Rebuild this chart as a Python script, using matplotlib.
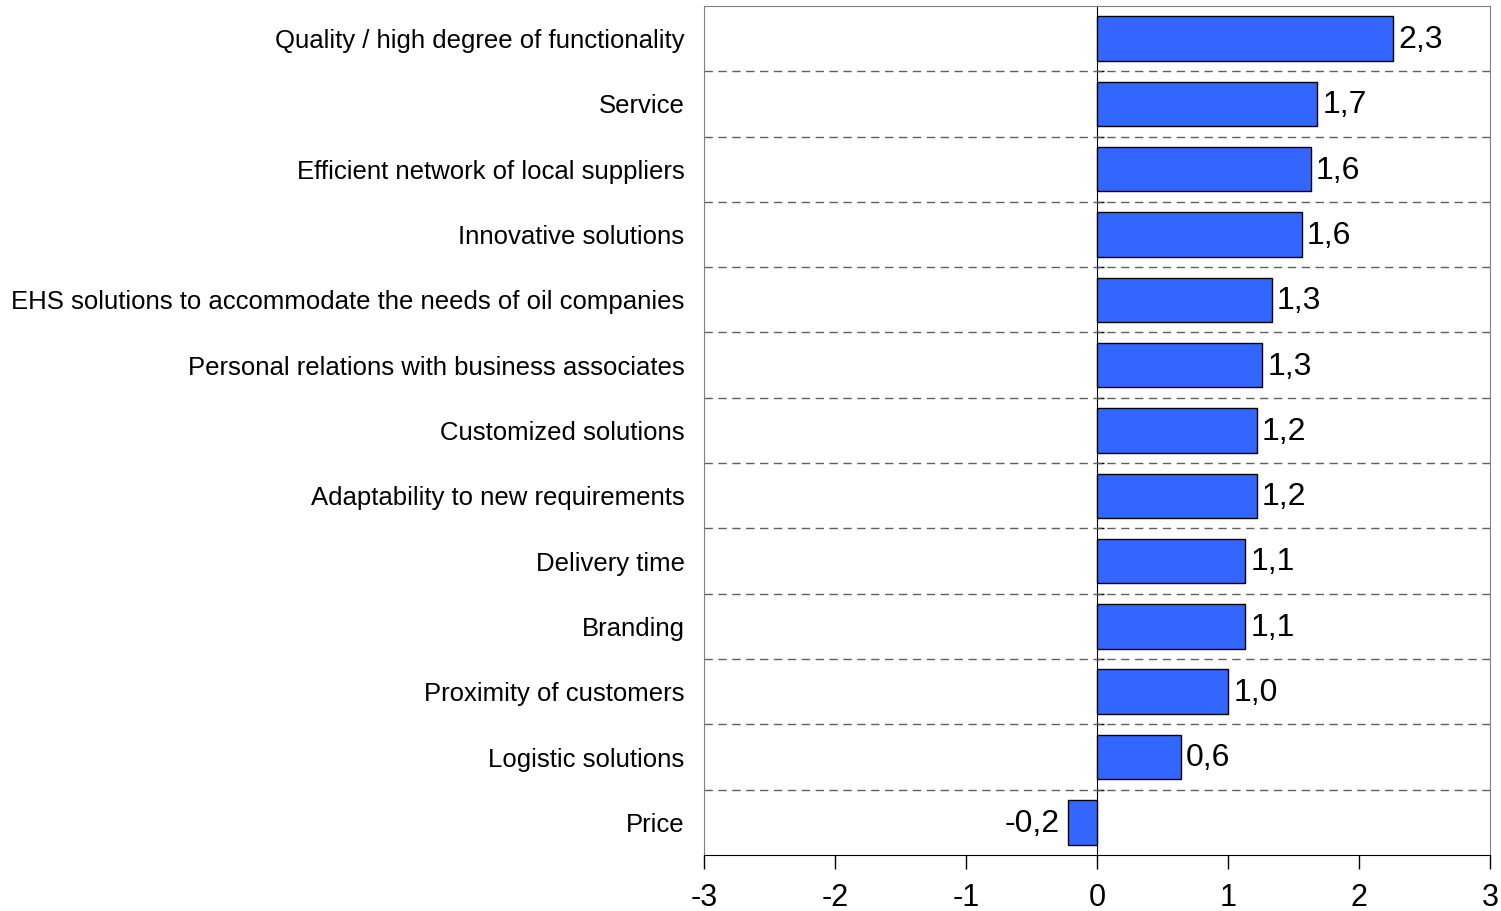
import numpy as np
import matplotlib
from matplotlib import pyplot as plt

matplotlib.rcParams['font.family'] = ['Liberation Sans', 'DejaVu Sans']

categories = ['Quality / high degree of functionality', 'Service',
              'Efficient network of local suppliers', 'Innovative solutions',
              'EHS solutions to accommodate the needs of oil companies',
              'Personal relations with business associates',
              'Customized solutions', 'Adaptability to new requirements',
              'Delivery time', 'Branding', 'Proximity of customers',
              'Logistic solutions', 'Price']
values = [2.26, 1.68, 1.63, 1.56, 1.33, 1.26, 1.22, 1.22, 1.13, 1.13, 1.0, 0.64, -0.22]
xticks = [-3, -2, -1, 0, 1, 2, 3]

fig = plt.figure(figsize=(15.01, 9.11), dpi=100)
ax = fig.add_axes([0.469, 0.0615, 0.524, 0.932])

n = len(categories)
y = np.arange(n)[::-1]
bars = ax.barh(y, values, height=0.68, color='#3366FF', edgecolor='black', linewidth=1, zorder=3)

ax.set_xlim(-3, 3)
ax.set_ylim(-0.5, n - 0.5)

# dashed separators between categories
for b in np.arange(n - 1) + 0.5:
    ax.axhline(b, color='#606060', linestyle=(0, (6, 4)), linewidth=1, zorder=1)

ax.set_yticks(y)
ax.set_yticklabels(categories, fontsize=18.5)
ax.tick_params(axis='y', length=0, pad=14)

ax.set_xticks(xticks)
ax.set_xticklabels([str(t) for t in xticks], fontsize=22)
ax.tick_params(axis='x', direction='out', length=10, width=1, pad=10, color='black')

for side in ['top', 'left', 'right']:
    ax.spines[side].set_color('#808080')
ax.spines['bottom'].set_color('black')

# zero line with small ticks at category boundaries
sec = ax.secondary_yaxis(0.5)
sec.set_yticks(np.arange(n - 1) + 0.5)
sec.set_yticklabels([])
sec.tick_params(direction='out', length=5, width=1)
sec.spines['left'].set_color('black')
sec.spines['left'].set_zorder(4)

for v, yy in zip(values, y):
    lab = ('%.1f' % v).replace('.', ',')
    if v >= 0:
        ax.annotate(lab, (v, yy), xytext=(3.5, -1), textcoords='offset points',
                    va='center', ha='left', fontsize=23)
    else:
        ax.annotate(lab, (v, yy), xytext=(-6.5, -1), textcoords='offset points',
                    va='center', ha='right', fontsize=23)

plt.savefig('out.png', dpi=100)
